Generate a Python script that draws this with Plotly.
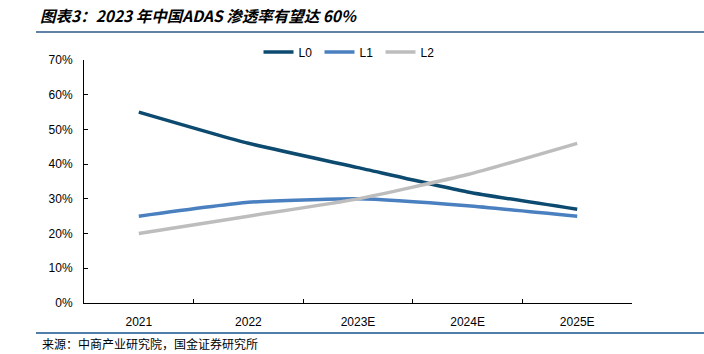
import plotly.graph_objects as go

categories = ["2021", "2022", "2023E", "2024E", "2025E"]
L0 = [0.55, 0.46, 0.39, 0.32, 0.27]
L1 = [0.25, 0.29, 0.30, 0.28, 0.25]
L2 = [0.20, 0.25, 0.30, 0.37, 0.46]
series = [("L0", L0, "#0D4A70"), ("L1", L1, "#4A80C0"), ("L2", L2, "#BDBDBD")]
y_ticks = [0, 0.1, 0.2, 0.3, 0.4, 0.5, 0.6, 0.7]

fig = go.Figure()
for name, vals, color in series:
    fig.add_trace(go.Scatter(x=categories, y=vals, name=name, mode="lines",
                             line=dict(color=color, width=3.5, shape="spline", smoothing=0.5)))

W, H = 704, 354
l, r, t, b = 84, 72, 60, 51
pw, ph = W - l - r, H - t - b

def px(x):
    return (x - l) / pw

def py(y):
    return (H - b - y) / ph

fig.update_layout(
    width=W, height=H,
    margin=dict(l=l, r=r, t=t, b=b),
    paper_bgcolor="white", plot_bgcolor="white",
    font=dict(family="Liberation Sans, Arial, sans-serif", size=12, color="black"),
    showlegend=True,
    legend=dict(orientation="h", x=0.4854, xanchor="center", y=py(52), yanchor="middle",
                font=dict(size=12), itemwidth=30, entrywidth=16, entrywidthmode="pixels",
                tracegroupgap=0),
    xaxis=dict(type="category", range=[-0.5, 4.5], showline=True, linecolor="black", linewidth=1,
               ticks="inside", tickson="boundaries", ticklen=4, tickcolor="black",
               ticklabelstandoff=8,
               showgrid=False, zeroline=False, tickfont=dict(size=12)),
    yaxis=dict(range=[0, 0.7], tickvals=y_ticks, tickformat=".0%", showline=True,
               linecolor="black", linewidth=1, ticks="inside", ticklen=4,
               ticklabelstandoff=8,
               tickcolor="black", showgrid=False, zeroline=False, tickfont=dict(size=12)),
    shapes=[
        dict(type="line", xref="paper", yref="paper", x0=px(36), x1=px(704), y0=py(32), y1=py(32),
             line=dict(color="#2C5A85", width=1.5)),
        dict(type="line", xref="paper", yref="paper", x0=px(36), x1=px(704), y0=py(333), y1=py(333),
             line=dict(color="#4F7FA8", width=2)),
    ],
    annotations=[
        dict(text="<b><i>图表3：2023 年中国ADAS 渗透率有望达 60%</i></b>", xref="paper", yref="paper",
             x=px(38), y=py(15), xanchor="left", yanchor="middle", showarrow=False,
             font=dict(family="Noto Sans CJK SC", size=15.5, color="black")),
        dict(text="来源：中商产业研究院，国金证券研究所", xref="paper", yref="paper",
             x=px(40), y=py(343), xanchor="left", yanchor="middle", showarrow=False,
             font=dict(family="Noto Sans CJK SC", size=12, color="black")),
    ],
)

fig.write_html("out.html")
